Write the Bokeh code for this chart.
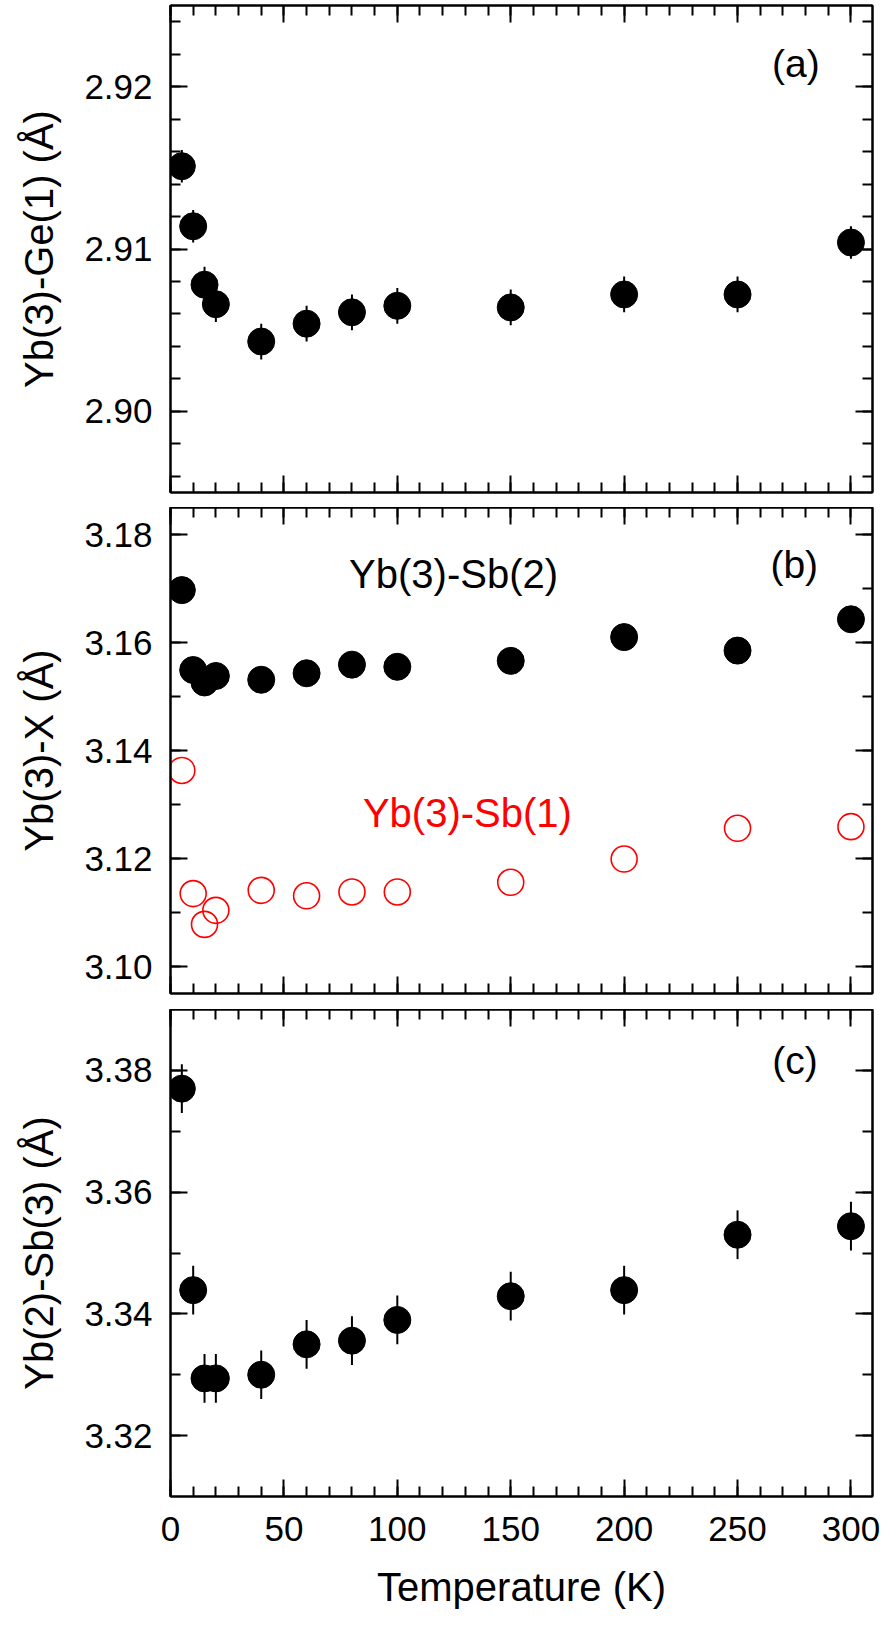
from bokeh.plotting import figure
from bokeh.models import Range1d, LinearAxis, FixedTicker, PrintfTickFormatter, Label
from bokeh.layouts import column
from bokeh.embed import file_html
from bokeh.resources import INLINE

# ---------------- data ----------------
temperature = [5, 10, 15, 20, 40, 60, 80, 100, 150, 200, 250, 300]

yb3_ge1 = [2.9151, 2.9114, 2.9078, 2.9066, 2.9043, 2.9054, 2.9061, 2.9065, 2.9064, 2.9072, 2.9072, 2.9104]
yb3_ge1_err = [0.0010, 0.0010, 0.0011, 0.0011, 0.0011, 0.0011, 0.0011, 0.0011, 0.0011, 0.0011, 0.0011, 0.0010]

yb3_sb2 = [3.1697, 3.1549, 3.1526, 3.1538, 3.1531, 3.1543, 3.1559, 3.1555, 3.1566, 3.1610, 3.1585, 3.1643]
yb3_sb1 = [3.1363, 3.1135, 3.1078, 3.1104, 3.1141, 3.1131, 3.1138, 3.1138, 3.1156, 3.1199, 3.1256, 3.1259]

yb2_sb3 = [3.3770, 3.3439, 3.3294, 3.3294, 3.3300, 3.3350, 3.3356, 3.3390, 3.3429, 3.3439, 3.3530, 3.3544]
yb2_sb3_err = [0.004, 0.004, 0.004, 0.004, 0.004, 0.004, 0.004, 0.004, 0.004, 0.004, 0.004, 0.004]

x_major = [0, 50, 100, 150, 200, 250, 300]
x_minor = list(range(0, 310, 10))

ya_major = [2.90, 2.91, 2.92]
ya_minor = [2.896, 2.898, 2.900, 2.902, 2.904, 2.906, 2.908, 2.910, 2.912, 2.914, 2.916, 2.918, 2.920, 2.922, 2.924]
yb_major = [3.10, 3.12, 3.14, 3.16, 3.18]
yb_minor = [3.10, 3.11, 3.12, 3.13, 3.14, 3.15, 3.16, 3.17, 3.18]
yc_major = [3.32, 3.34, 3.36, 3.38]
yc_minor = [3.32, 3.33, 3.34, 3.35, 3.36, 3.37, 3.38]

FONT = "Liberation Sans"
TICK_FS = "35px"
LABEL_FS = "40px"


def style_axis(ax, show_labels):
    ax.axis_line_width = 2
    ax.axis_line_color = "black"
    ax.major_tick_in = 17
    ax.major_tick_out = 0
    ax.minor_tick_in = 10
    ax.minor_tick_out = 0
    ax.major_tick_line_width = 2
    ax.minor_tick_line_width = 2
    ax.major_tick_line_color = "black"
    ax.minor_tick_line_color = "black"
    ax.major_label_text_font = FONT
    ax.axis_label_text_font = FONT
    ax.axis_label_text_font_style = "normal"
    ax.axis_label_text_font_size = LABEL_FS
    ax.axis_label_text_color = "black"
    if show_labels:
        ax.major_label_text_font_size = TICK_FS
        ax.major_label_text_color = "black"
    else:
        ax.major_label_text_font_size = "0px"
        ax.major_label_text_color = None
        ax.major_label_standoff = 0


def make_panel(yr, ymaj, ymin, frame_h, top_b, bottom_b, ylabel, xlabel):
    p = figure(frame_width=702, frame_height=frame_h,
               x_range=Range1d(0, 309.5), y_range=Range1d(*yr),
               output_backend="svg", toolbar_location=None,
               min_border_left=170, min_border_right=8,
               min_border_top=top_b, min_border_bottom=bottom_b,
               x_axis_location=None, y_axis_location=None)
    p.grid.visible = False
    p.outline_line_color = "black"
    p.outline_line_width = 2
    p.background_fill_color = "white"
    p.border_fill_color = "white"

    xt = FixedTicker(ticks=x_major, minor_ticks=x_minor)
    yt = FixedTicker(ticks=ymaj, minor_ticks=ymin)
    fmt = PrintfTickFormatter(format="%.2f")

    left = LinearAxis(ticker=yt, formatter=fmt, axis_label=ylabel)
    style_axis(left, True)
    left.major_label_standoff = 18
    left.axis_label_standoff = 20
    p.add_layout(left, "left")

    right = LinearAxis(ticker=yt, formatter=fmt)
    style_axis(right, False)
    p.add_layout(right, "right")

    bottom = LinearAxis(ticker=xt)
    style_axis(bottom, xlabel is not None)
    if xlabel is not None:
        bottom.axis_label = xlabel
        bottom.major_label_standoff = 20
        bottom.axis_label_standoff = 21
    p.add_layout(bottom, "below")

    top = LinearAxis(ticker=xt)
    style_axis(top, False)
    p.add_layout(top, "above")
    return p


def add_text(p, x, y, txt, color="black", size="39px"):
    p.add_layout(Label(x=x, y=y, text=txt, text_font=FONT, text_font_size=size,
                       text_color=color, text_align="center", text_baseline="middle"))


# ---------------- panel (a) ----------------
pa = make_panel((2.895, 2.925), ya_major, ya_minor, 487, 5, 15, "Yb(3)-Ge(1) (Å)", None)
pa.segment(x0=temperature, x1=temperature,
           y0=[v - e for v, e in zip(yb3_ge1, yb3_ge1_err)],
           y1=[v + e for v, e in zip(yb3_ge1, yb3_ge1_err)],
           line_color="black", line_width=2)
pa.scatter(temperature, yb3_ge1, marker="circle", size=27, fill_color="black", line_color="black")
add_text(pa, 275.7, 2.9214, "(a)")

# ---------------- panel (b) ----------------
pb = make_panel((3.095, 3.185), yb_major, yb_minor, 486, 0, 16, "Yb(3)-X (Å)", None)
pb.scatter(temperature, yb3_sb2, marker="circle", size=27, fill_color="black", line_color="black")
pb.scatter(temperature, yb3_sb1, marker="circle", size=26, fill_color=None, line_color="#ff0000", line_width=1.6)
add_text(pb, 275.0, 3.1744, "(b)")
add_text(pb, 124.8, 3.1727, "Yb(3)-Sb(2)", size="40px")
add_text(pb, 130.9, 3.1284, "Yb(3)-Sb(1)", color="#ff0000", size="40px")

# ---------------- panel (c) ----------------
pc = make_panel((3.31, 3.39), yc_major, yc_minor, 487, 0, 0, "Yb(2)-Sb(3) (Å)", "Temperature (K)")
pc.segment(x0=temperature, x1=temperature,
           y0=[v - e for v, e in zip(yb2_sb3, yb2_sb3_err)],
           y1=[v + e for v, e in zip(yb2_sb3, yb2_sb3_err)],
           line_color="black", line_width=2)
pc.scatter(temperature, yb2_sb3, marker="circle", size=27, fill_color="black", line_color="black")
add_text(pc, 275.3, 3.3817, "(c)")

layout = column(pa, pb, pc, spacing=0)
open("out.html", "w").write(file_html(layout, INLINE))
